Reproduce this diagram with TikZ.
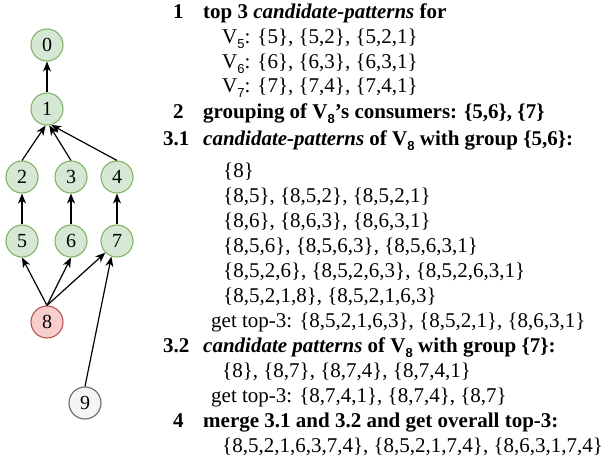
\documentclass[tikz,border=0pt]{standalone}
\usepackage{fontspec}
\setmainfont{Liberation Serif}
\newfontfamily\subfont{Liberation Sans}
\usetikzlibrary{arrows.meta}
\definecolor{gfill}{HTML}{D5E8D4}
\definecolor{gdraw}{HTML}{82B366}
\definecolor{rfill}{HTML}{F8CECC}
\definecolor{rdraw}{HTML}{B85450}
\definecolor{yfill}{HTML}{F5F5F5}
\definecolor{ydraw}{HTML}{666666}
\newcommand\Vsub[1]{V\raisebox{-5pt}{\fontsize{13}{13}\selectfont\subfont #1}}
\tikzset{
  vtx/.style={circle, minimum size=32pt, inner sep=0pt, line width=1.1pt, font=\fontsize{20}{20}\selectfont},
  gvtx/.style={vtx, draw=gdraw, fill=gfill},
  rvtx/.style={vtx, draw=rdraw, fill=rfill},
  yvtx/.style={vtx, draw=ydraw, fill=yfill},
  edge/.style={line width=1.2pt, -{Stealth[length=10pt,width=8pt,inset=3pt]}},
  txt/.style={anchor=base west, inner sep=0pt, font=\fontsize{21}{21}\selectfont}
}
\begin{document}
\begin{tikzpicture}[x=1pt,y=-1pt]
\useasboundingbox (0,0) rectangle (607,463);
% vertices
\node[gvtx] (n0) at (47,45) {0};
\node[gvtx] (n1) at (47,109) {1};
\node[gvtx] (n2) at (22,177) {2};
\node[gvtx] (n3) at (71,177) {3};
\node[gvtx] (n4) at (117,177) {4};
\node[gvtx] (n5) at (22,241) {5};
\node[gvtx] (n6) at (71,241) {6};
\node[gvtx] (n7) at (117,241) {7};
\node[rvtx] (n8) at (47,322) {8};
\node[yvtx] (n9) at (85,403) {9};
% edges
\draw[edge] (n1.north) -- (n0.south);
\draw[edge] (n2.north) -- (n1.265);
\draw[edge] (n3.north) -- (n1.278);
\draw[edge] (n4.north) -- (n1.285);
\draw[edge] (n5.north) -- (n2.south);
\draw[edge] (n6.north) -- (n3.south);
\draw[edge] (n7.north) -- (n4.south);
\draw[edge] (n8.north) -- (n5.south);
\draw[edge] (n8.north) -- (n6.south);
\draw[edge] (n8.north) -- (n7.225);
\draw[edge] (n9.north) -- (n7.250);
% text
\node[txt] (t1a) at (173,18) {\textbf{1}};
\node[txt] (t1b) at (203,18) {\textbf{top 3 \textit{candidate-patterns} for}};
\node[txt] (t2) at (222,43) {\Vsub{5}: \{5\}, \{5,2\}, \{5,2,1\}};
\node[txt] (t3) at (222,68) {\Vsub{6}: \{6\}, \{6,3\}, \{6,3,1\}};
\node[txt] (t4) at (222,92) {\Vsub{7}: \{7\}, \{7,4\}, \{7,4,1\}};
\node[txt] (t5a) at (173,118) {\textbf{2}};
\node[txt] (t5b) at (203,118) {\textbf{grouping of \Vsub{8}'s consumers: \{5,6\}, \{7\}}};
\node[txt] (t6a) at (163,145) {\textbf{3.1}};
\node[txt] (t6b) at (203,145) {\textbf{\textit{candidate-patterns} of \Vsub{8} with group \{5,6\}:}};
\node[txt] (t7) at (223,177) {\{8\}};
\node[txt] (t8) at (223,202) {\{8,5\}, \{8,5,2\}, \{8,5,2,1\}};
\node[txt] (t9) at (223,227) {\{8,6\}, \{8,6,3\}, \{8,6,3,1\}};
\node[txt] (t10) at (223,252) {\{8,5,6\}, \{8,5,6,3\}, \{8,5,6,3,1\}};
\node[txt] (t11) at (223,277) {\{8,5,2,6\}, \{8,5,2,6,3\}, \{8,5,2,6,3,1\}};
\node[txt] (t12) at (223,302) {\{8,5,2,1,8\}, \{8,5,2,1,6,3\}};
\node[txt] (t13) at (211,327) {get top-3: \{8,5,2,1,6,3\}, \{8,5,2,1\}, \{8,6,3,1\}};
\node[txt] (t14a) at (163,352) {\textbf{3.2}};
\node[txt] (t14b) at (203,352) {\textbf{\textit{candidate patterns} of \Vsub{8} with group \{7\}:}};
\node[txt] (t15) at (222,377) {\{8\}, \{8,7\}, \{8,7,4\}, \{8,7,4,1\}};
\node[txt] (t16) at (211,402) {get top-3: \{8,7,4,1\}, \{8,7,4\}, \{8,7\}};
\node[txt] (t17a) at (173,427) {\textbf{4}};
\node[txt] (t17b) at (203,427) {\textbf{merge 3.1 and 3.2 and get overall top-3:}};
\node[txt] (t18) at (222,452) {\{8,5,2,1,6,3,7,4\}, \{8,5,2,1,7,4\}, \{8,6,3,1,7,4\}};
\end{tikzpicture}
\end{document}
